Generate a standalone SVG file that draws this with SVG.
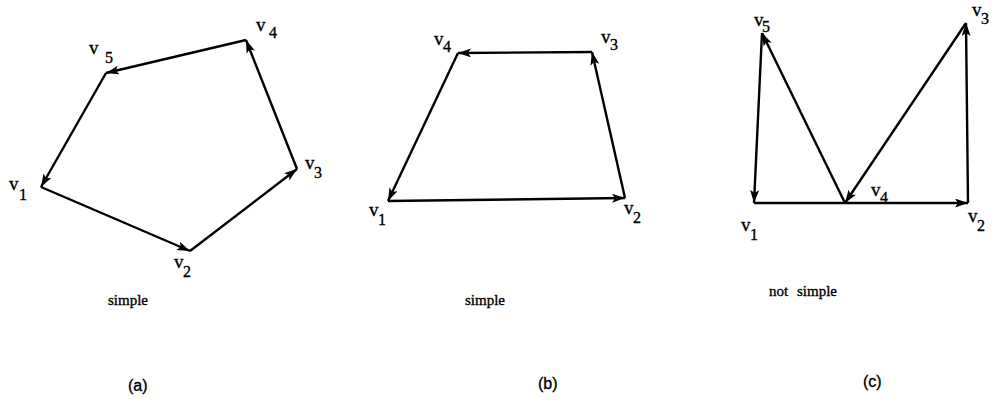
<svg xmlns="http://www.w3.org/2000/svg" width="997" height="404" viewBox="0 0 997 404">
<style>
.e{stroke:#000;stroke-width:2.4;fill:none;marker-end:url(#ah)}
text{fill:#000;stroke:#000;stroke-width:0.35}
.v{font-family:"Liberation Serif",serif;font-size:19px}
.s{font-family:"Liberation Serif",serif;font-size:16px}
.c{font-family:"Liberation Serif",serif;font-size:15px}
.p{font-family:"Liberation Sans",Arial,sans-serif;font-size:16px}
</style>
<defs>
<marker id="ah" markerUnits="userSpaceOnUse" markerWidth="14" markerHeight="10" refX="13" refY="4.5" orient="auto">
<path d="M0,0 L13,4.5 L0,9 L3,4.5 z" fill="#000"/>
</marker>
</defs>
<rect width="997" height="404" fill="#fff"/>
<g id="connectors">
<line class="e" x1="41" y1="187" x2="190" y2="251"/>
<line class="e" x1="190" y1="251" x2="297" y2="169"/>
<line class="e" x1="297" y1="169" x2="246" y2="40"/>
<line class="e" x1="246" y1="40" x2="106" y2="73"/>
<line class="e" x1="106" y1="73" x2="41" y2="187"/>
<line class="e" x1="388" y1="201" x2="625" y2="198"/>
<line class="e" x1="625" y1="198" x2="592" y2="52"/>
<line class="e" x1="592" y1="52" x2="458" y2="53"/>
<line class="e" x1="458" y1="53" x2="388" y2="201"/>
<line class="e" x1="754" y1="203" x2="968" y2="203"/>
<line class="e" x1="968" y1="203" x2="966" y2="23"/>
<line class="e" x1="966" y1="23" x2="845" y2="203"/>
<line class="e" x1="845" y1="203" x2="762" y2="33"/>
<line class="e" x1="762" y1="33" x2="754" y2="203"/>
</g>
<g id="a-v1"><text class="v" x="9" y="190">v</text><text class="s" x="19" y="200">1</text></g>
<g id="a-v2"><text class="v" x="174" y="268">v</text><text class="s" x="183" y="277">2</text></g>
<g id="a-v3"><text class="v" x="305" y="169">v</text><text class="s" x="314" y="178">3</text></g>
<g id="a-v4"><text class="v" x="256" y="31">v</text><text class="s" x="269" y="38">4</text></g>
<g id="a-v5"><text class="v" x="89" y="54">v</text><text class="s" x="105" y="63">5</text></g>
<g id="a-caption"><text class="c" x="108" y="305">simple</text><text class="p" x="128" y="391">(a)</text></g>
<g id="b-v1"><text class="v" x="369" y="216">v</text><text class="s" x="378" y="225">1</text></g>
<g id="b-v2"><text class="v" x="624" y="214">v</text><text class="s" x="633" y="223">2</text></g>
<g id="b-v3"><text class="v" x="601" y="43">v</text><text class="s" x="610" y="50">3</text></g>
<g id="b-v4"><text class="v" x="434" y="45">v</text><text class="s" x="443" y="52">4</text></g>
<g id="b-caption"><text class="c" x="465" y="305">simple</text><text class="p" x="538" y="389">(b)</text></g>
<g id="c-v1"><text class="v" x="741" y="231">v</text><text class="s" x="750" y="240">1</text></g>
<g id="c-v2"><text class="v" x="968" y="222">v</text><text class="s" x="977" y="231">2</text></g>
<g id="c-v3"><text class="v" x="972" y="16">v</text><text class="s" x="981" y="24">3</text></g>
<g id="c-v4"><text class="v" x="871" y="196">v</text><text class="s" x="880" y="203">4</text></g>
<g id="c-v5"><text class="v" x="754" y="26">v</text><text class="s" x="762" y="32">5</text></g>
<g id="c-caption"><text class="c" x="769" y="296">not</text><text class="c" x="797" y="296">simple</text><text class="p" x="863" y="387">(c)</text></g>
</svg>
